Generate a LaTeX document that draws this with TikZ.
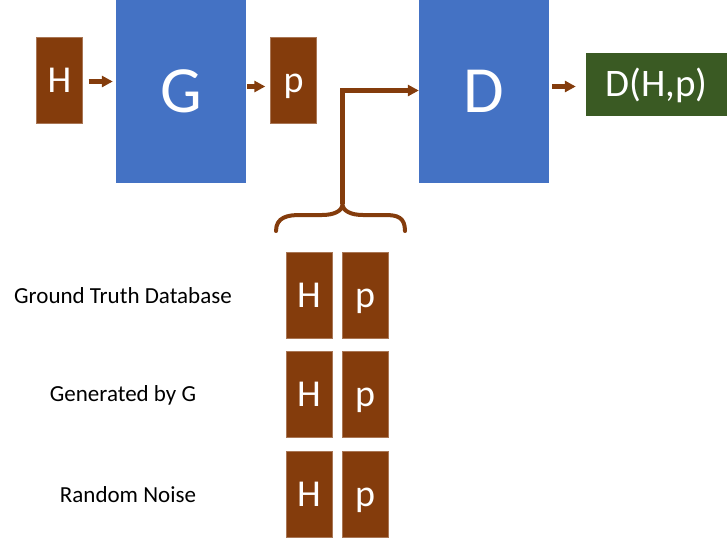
\documentclass[tikz,border=0pt]{standalone}
\usepackage{fontspec}
\setmainfont{Carlito}
\usetikzlibrary{arrows.meta}
\definecolor{ganbrown}{HTML}{843C0C}
\definecolor{ganblue}{HTML}{4472C4}
\definecolor{gangreen}{HTML}{3A5A23}

\begin{document}
\begin{tikzpicture}[
    x=1pt, y=-1pt,
    % Small brown data boxes
    databox/.style={
        draw=ganbrown!70!white,
        thin,
        fill=ganbrown,
        text=white,
        minimum width=46pt,
        minimum height=86pt,
        inner sep=0pt,
        text height=24pt,
        text depth=0pt,
        font=\fontsize{38}{44}\selectfont
    },
    % Large blue network boxes
    netbox/.style={
        fill=ganblue,
        text=white,
        minimum width=130pt,
        minimum height=183pt,
        inner sep=0pt,
        text height=41.5pt,
        text depth=0pt,
        font=\fontsize{66}{76}\selectfont
    },
    flow/.style={
        draw=ganbrown,
        line width=4.5pt,
        -{Triangle[length=11pt,width=11pt]}
    },
    rowlabel/.style={font=\fontsize{23}{28}\selectfont, text=black}
]
    \useasboundingbox (0,0) rectangle (727,541);

    % --- top pipeline ---
    \node (hin)  [databox] at (59.5,80.5) {H};
    \node (gen)  [netbox]  at (181,91.5)  {G};
    \node (pout) [databox] at (293.5,80.5) {p};
    \node (disc) [netbox]  at (484,91.5)  {D};
    \node (score)[fill=gangreen, text=white, minimum width=141pt, minimum height=63pt,
                  inner sep=0pt, text height=24.5pt, text depth=0pt,
                  font=\fontsize{39}{46}\selectfont] at (656.5,84.5) {D(H,p)};

    \draw[flow, shorten <=6pt, shorten >=3pt] ([yshift=-1pt]hin.east) -- ([yshift=-1pt]gen.west |- hin);
    \draw[flow, shorten <=1pt, shorten >=5pt] ([yshift=-6pt]gen.east |- pout) -- ([yshift=-6pt]pout.west);
    \draw[flow, shorten <=3pt, shorten >=10pt] ([yshift=-2pt]disc.east |- score) -- ([yshift=-2pt]score.west);

    % --- brace over the input pairs ---
    \coordinate (cusp) at (342.5,204);
    \draw[ganbrown, line width=4pt, line cap=round]
        (276,231) .. controls (276,217) and (288,215) .. (300,215)
        -- (322,215) .. controls (334,215) and (342.5,211) .. (cusp)
        .. controls (342.5,211) and (351,215) .. (363,215)
        -- (385,215) .. controls (397,215) and (405,217) .. (405,231);
    \draw[flow] (cusp) |- ([yshift=1pt]disc.west);

    % --- input pairs for D ---
    \foreach \y/\lx/\txt [count=\i] in {295/123/Ground Truth Database,
                                        394.5/123/Generated by G,
                                        494/128/Random Noise} {
        \node (lab-\i) [rowlabel] at (\lx,\y+1) {\txt};
        \node (ph-\i)  [databox]  at (309,\y) {H};
        \node (pp-\i)  [databox]  at (365,\y) {p};
    }
\end{tikzpicture}
\end{document}
